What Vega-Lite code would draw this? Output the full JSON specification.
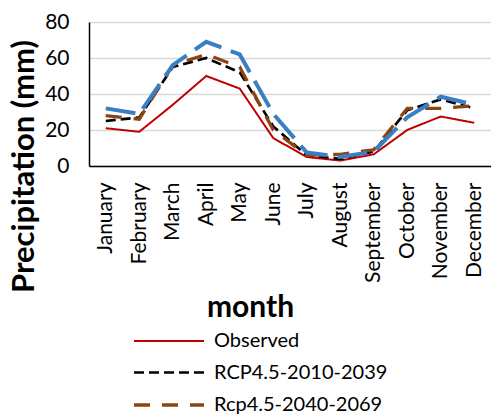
{
  "$schema": "https://vega.github.io/schema/vega-lite/v6.json",
  "autosize": "none",
  "width": 402,
  "height": 144,
  "padding": {"left": 89, "top": 22, "right": 0, "bottom": 250},
  "background": "white",
  "config": {
    "view": {"stroke": null},
    "font": "Lato",
    "axis": {"labelFont": "Lato", "titleFont": "Lato", "labelColor": "#000000", "titleColor": "#000000"},
    "legend": {
      "labelFont": "Lato",
      "title": null,
      "orient": "none",
      "legendX": 68,
      "legendY": 308,
      "symbolType": "M-3.5,0H3.5",
      "symbolSize": 400,
      "labelFontSize": 20,
      "labelColor": "#000000",
      "labelLimit": 400,
      "labelOffset": 33,
      "rowPadding": 10
    }
  },
  "data": {
    "values": [
      {"month": "January", "series": "Observed", "precip": 21},
      {"month": "February", "series": "Observed", "precip": 19},
      {"month": "March", "series": "Observed", "precip": 34},
      {"month": "April", "series": "Observed", "precip": 50},
      {"month": "May", "series": "Observed", "precip": 43},
      {"month": "June", "series": "Observed", "precip": 15.5},
      {"month": "July", "series": "Observed", "precip": 5},
      {"month": "August", "series": "Observed", "precip": 3},
      {"month": "September", "series": "Observed", "precip": 6.5},
      {"month": "October", "series": "Observed", "precip": 20},
      {"month": "November", "series": "Observed", "precip": 27.5},
      {"month": "December", "series": "Observed", "precip": 24},
      {"month": "January", "series": "RCP4.5-2010-2039", "precip": 25},
      {"month": "February", "series": "RCP4.5-2010-2039", "precip": 27},
      {"month": "March", "series": "RCP4.5-2010-2039", "precip": 55},
      {"month": "April", "series": "RCP4.5-2010-2039", "precip": 60},
      {"month": "May", "series": "RCP4.5-2010-2039", "precip": 52},
      {"month": "June", "series": "RCP4.5-2010-2039", "precip": 22},
      {"month": "July", "series": "RCP4.5-2010-2039", "precip": 6},
      {"month": "August", "series": "RCP4.5-2010-2039", "precip": 4},
      {"month": "September", "series": "RCP4.5-2010-2039", "precip": 8},
      {"month": "October", "series": "RCP4.5-2010-2039", "precip": 31},
      {"month": "November", "series": "RCP4.5-2010-2039", "precip": 37},
      {"month": "December", "series": "RCP4.5-2010-2039", "precip": 32},
      {"month": "January", "series": "Rcp4.5-2040-2069", "precip": 28},
      {"month": "February", "series": "Rcp4.5-2040-2069", "precip": 26},
      {"month": "March", "series": "Rcp4.5-2040-2069", "precip": 56},
      {"month": "April", "series": "Rcp4.5-2040-2069", "precip": 62},
      {"month": "May", "series": "Rcp4.5-2040-2069", "precip": 55},
      {"month": "June", "series": "Rcp4.5-2040-2069", "precip": 20},
      {"month": "July", "series": "Rcp4.5-2040-2069", "precip": 6},
      {"month": "August", "series": "Rcp4.5-2040-2069", "precip": 6.5},
      {"month": "September", "series": "Rcp4.5-2040-2069", "precip": 9},
      {"month": "October", "series": "Rcp4.5-2040-2069", "precip": 32},
      {"month": "November", "series": "Rcp4.5-2040-2069", "precip": 32},
      {"month": "December", "series": "Rcp4.5-2040-2069", "precip": 33.5},
      {"month": "January", "series": "Rcp4.5-2070-2099", "precip": 32},
      {"month": "February", "series": "Rcp4.5-2070-2099", "precip": 29},
      {"month": "March", "series": "Rcp4.5-2070-2099", "precip": 56},
      {"month": "April", "series": "Rcp4.5-2070-2099", "precip": 69},
      {"month": "May", "series": "Rcp4.5-2070-2099", "precip": 62},
      {"month": "June", "series": "Rcp4.5-2070-2099", "precip": 29},
      {"month": "July", "series": "Rcp4.5-2070-2099", "precip": 7.5},
      {"month": "August", "series": "Rcp4.5-2070-2099", "precip": 5},
      {"month": "September", "series": "Rcp4.5-2070-2099", "precip": 8},
      {"month": "October", "series": "Rcp4.5-2070-2099", "precip": 27},
      {"month": "November", "series": "Rcp4.5-2070-2099", "precip": 38.5},
      {"month": "December", "series": "Rcp4.5-2070-2099", "precip": 34}
    ]
  },
  "mark": {"type": "line", "strokeCap": "butt"},
  "encoding": {
    "x": {
      "field": "month",
      "type": "nominal",
      "sort": null,
      "scale": {"type": "point", "padding": 0.5},
      "axis": {
        "title": "month",
        "titleFontSize": 30,
        "titleFontWeight": "bold",
        "titleX": 161,
        "titleY": 150,
        "titleBaseline": "alphabetic",
        "titleAlign": "center",
        "labelAngle": -90,
        "labelAlign": "right",
        "labelBaseline": "middle",
        "labelFontSize": 21,
        "labelPadding": 16,
        "ticks": false,
        "tickSize": 0,
        "domainColor": "#000000",
        "domainWidth": 1.5,
        "grid": false
      }
    },
    "y": {
      "field": "precip",
      "type": "quantitative",
      "scale": {"domain": [0, 80], "nice": false},
      "axis": {
        "title": "Precipitation (mm)",
        "titleFontSize": 31,
        "titleFontWeight": "bold",
        "titleAngle": -90,
        "titleX": -56,
        "titleY": 144,
        "titleAlign": "center",
        "titleBaseline": "alphabetic",
        "values": [0, 20, 40, 60, 80],
        "labelFontSize": 21,
        "labelPadding": 20,
        "ticks": false,
        "tickSize": 0,
        "domainColor": "#000000",
        "domainWidth": 1.5,
        "grid": true,
        "gridColor": "#D9D9D9",
        "gridWidth": 1.5
      }
    },
    "color": {
      "field": "series",
      "type": "nominal",
      "sort": null,
      "scale": {
        "domain": ["Observed", "RCP4.5-2010-2039", "Rcp4.5-2040-2069", "Rcp4.5-2070-2099"],
        "range": ["#C00000", "#000000", "#8B4513", "#3A7FC4"]
      },
      "legend": {"values": ["Observed", "RCP4.5-2010-2039", "Rcp4.5-2040-2069"]}
    },
    "strokeDash": {
      "field": "series",
      "type": "nominal",
      "sort": null,
      "scale": {
        "domain": ["Observed", "RCP4.5-2010-2039", "Rcp4.5-2040-2069", "Rcp4.5-2070-2099"],
        "range": [[1, 0], [10, 5], [16, 12], [30, 10]]
      },
      "legend": {"values": ["Observed", "RCP4.5-2010-2039", "Rcp4.5-2040-2069"]}
    },
    "strokeWidth": {
      "field": "series",
      "type": "nominal",
      "sort": null,
      "scale": {
        "domain": ["Observed", "RCP4.5-2010-2039", "Rcp4.5-2040-2069", "Rcp4.5-2070-2099"],
        "range": [2, 4, 4, 4]
      },
      "legend": {"values": ["Observed", "RCP4.5-2010-2039", "Rcp4.5-2040-2069"]}
    }
  }
}
